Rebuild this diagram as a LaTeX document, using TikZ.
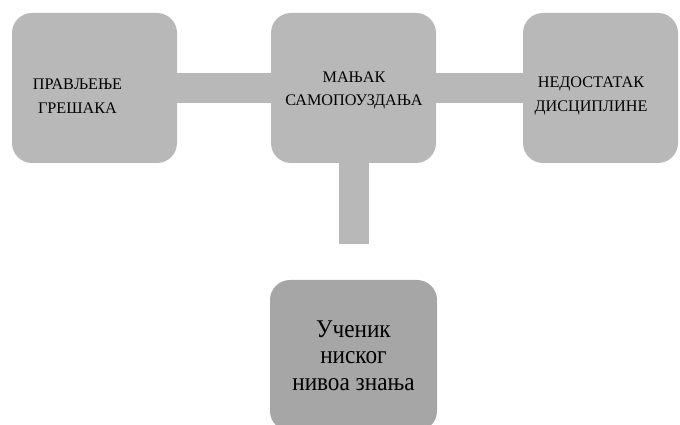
\documentclass[tikz,border=0pt]{standalone}
\usepackage{fontspec}
\setmainfont{Liberation Serif}
\newfontfamily\tallserif[FakeStretch=0.91]{Liberation Serif}
\usepackage{tikz}
\usepackage{xcolor}
\definecolor{boxgray}{HTML}{B8B8B8}
\definecolor{darkgray}{HTML}{A6A6A6}

\begin{document}
\begin{tikzpicture}[x=1pt, y=1pt,
        box/.style={rectangle, rounded corners=20pt, fill=boxgray, minimum height=150pt},
        boxtext/.style={align=center, font=\fontsize{16.2}{23.5}\selectfont},
        link/.style={draw=boxgray, line width=30pt}]
            \clip (0, 0) rectangle (680, 425);
            \node[box, minimum width=165pt, label={[boxtext, xshift=-17pt, yshift=-8pt]center:{ПРАВЉЕЊЕ\\ГРЕШАКА}}] (errors) at (94.5, 337) {};
            \node[box, minimum width=165pt, label={[boxtext, xshift=0.5pt, yshift=-2.5pt]center:{МАЊАК\\САМОПОУЗДАЊА}}] (selfconf) at (353.5, 337) {};
            \node[box, minimum width=155pt, label={[boxtext, xshift=-9.5pt, yshift=-8pt]center:{НЕДОСТАТАК\\ДИСЦИПЛИНЕ}}] (discipline) at (600.5, 337) {};
            \node[box, fill=darkgray, minimum width=167pt, minimum height=151pt, align=center, font=\tallserif\fontsize{25.5}{26.5}\selectfont] (student) at (353.5, 69.5) {Ученик\\ниског\\нивоа знања};
            \coordinate (stem) at (353.5, 181);
        
            \draw[link] (errors) -- (selfconf);
            \draw[link] (selfconf) -- (discipline);
            \draw[link] (selfconf) -- (stem);
        \end{tikzpicture}
\end{document}
